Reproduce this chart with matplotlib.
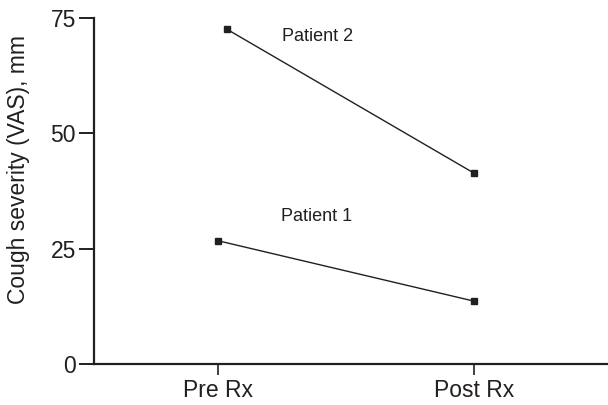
import matplotlib
matplotlib.use('Agg')
import matplotlib.pyplot as plt

plt.rcParams['font.family'] = ['Liberation Sans', 'DejaVu Sans']

categories = ['Pre Rx', 'Post Rx']
patient1 = [26.7, 13.6]
patient2 = [72.5, 41.3]
patient_names = ['Patient 1', 'Patient 2']
yticks = [0, 25, 50, 75]

ink = '#231f20'

fig = plt.figure(figsize=(6.08, 4.05), dpi=100)
ax = fig.add_axes([94 / 608, 41 / 405, 1 - 94 / 608, 346.5 / 405])

x1 = [0, 1]
x2 = [0.035, 1]  # patient 2 pre point sits a bit right of the tick
ax.plot(x1, patient1, color=ink, lw=1.0, marker='s', ms=5, mfc=ink, mec=ink)
ax.plot(x2, patient2, color=ink, lw=1.0, marker='s', ms=5, mfc=ink, mec=ink)

ax.text(0.386, 32.0, patient_names[0], fontsize=13, color=ink, ha='center', va='center')
ax.text(0.388, 70.8, patient_names[1], fontsize=13, color=ink, ha='center', va='center')

ax.set_xlim(-0.482, 1.522)
ax.set_ylim(0, 75)
ax.set_xticks(x1)
ax.set_xticklabels(categories)
ax.set_yticks(yticks)
ax.set_yticklabels([str(v) for v in yticks])

for s in ['top', 'right']:
    ax.spines[s].set_visible(False)
for s in ['left', 'bottom']:
    ax.spines[s].set_linewidth(1.6)
    ax.spines[s].set_color(ink)
ax.tick_params(axis='y', direction='out', length=11, width=1.4, color=ink,
               labelsize=16.5, labelcolor=ink, pad=2)
ax.tick_params(axis='x', direction='out', length=8, width=1.2, color=ink,
               labelsize=16.5, labelcolor=ink, pad=3)

ax.set_ylabel('Cough severity (VAS), mm', fontsize=16.5, color=ink)
ax.yaxis.set_label_coords(-0.125, 0.56)

fig.savefig('out.png', dpi=100)
